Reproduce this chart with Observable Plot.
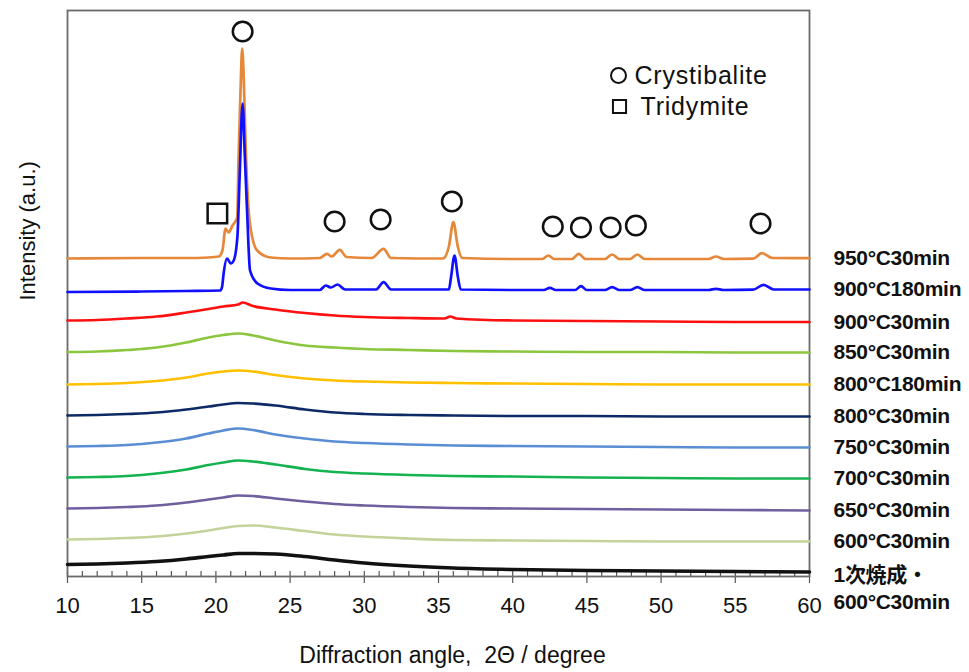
<!DOCTYPE html>
<html><head><meta charset="utf-8">
<script src="https://cdn.jsdelivr.net/npm/d3@7"></script>
<script src="https://cdn.jsdelivr.net/npm/@observablehq/plot@0.6"></script>
<style>
html,body{margin:0;padding:0;background:#fff;}
#chart{width:969px;height:672px;}
g[aria-description="series labels"] text{letter-spacing:-0.3px;}
g[aria-description="legend labels"] text{letter-spacing:0.8px;}
</style></head>
<body><div id="chart"></div>
<script>
// ---- Data (2θ in degrees, intensity in arbitrary stacked units) ----
const seriesNames = ["950°C30min","900°C180min","900°C30min","850°C30min","800°C180min","800°C30min","750°C30min","700°C30min","650°C30min","600°C30min","1次焼成・\n600°C30min"];
const seriesColors = ["#e6883a","#1010ff","#ff1010","#8cc63f","#ffc000","#0d2a66","#5a8ed4","#14b350","#6f5f9f","#c3d39a","#111111"];

const angles950 = [10,15,18,19.5,20.2,20.44,20.65,20.85,21.12,21.44,21.52,21.66,21.77,21.86,22.0,22.16,22.33,22.78,23.68,25,27,27.5,27.8,28.35,28.8,30.5,31.3,31.8,35.3,35.7,36.0,36.3,36.6,40,42.0,42.4,42.8,44.0,44.45,44.9,46.2,46.7,47.2,47.9,48.4,48.9,53.2,53.7,54.2,56.2,56.8,57.5,60];
const int950 = [318,318.5,318.5,319,320,326,348,344,351,359,416,486,528,506,433,376,349,326,319,318,318.5,322.7,320,326.7,319.5,318.5,327.7,318.5,318,330,354.3,330,318.5,317.5,317.5,321,317.5,317.5,322.7,317.5,317.5,322,317.5,317.5,322,317.5,317.5,320,317.5,317.8,323.3,318.5,318.3];

const angles900_180 = [10,15,18,20.3,20.42,20.52,20.75,21.0,21.2,21.45,21.6,21.8,21.95,22.1,22.3,22.8,23.7,25,27,27.4,27.75,28.2,28.7,30.8,31.3,31.8,35.7,35.85,36.08,36.3,36.5,40,42.1,42.5,42.9,44.2,44.6,45.0,46.2,46.7,47.2,47.9,48.4,48.9,53.2,53.7,54.2,56.2,56.9,57.6,60];
const int900_180 = [284.5,285,285.5,286,290,303,318,313,316,340,400,473,420,366,306,293,288,286.5,286.5,291,289,292,287,287,294.3,287,287,300,321,300,287,286.5,286.5,288.7,286.5,286.5,290.3,286.5,286.5,289.3,286.5,286.5,289.3,286.5,286.5,287.7,286.5,286.8,291.7,287,287];

const angles900_30 = [10,12,14,16,18,19.5,20.5,21.5,21.8,22.5,24,26,28,30,33,35.4,35.8,36.2,40,45,50,55,60];
const int900_30 = [256,256.5,258,260,264,267.5,270,272,274,270.5,267,263.5,261,259.5,258.5,258,260,258,256,255.5,255,254.5,254.5];

const amorphAngles = [10,12,14,16,18,19.5,20.5,21.5,22.5,24,26,28,30,33,36,40,45,50,55,60];
const int850_30 = [224.5,225,226.5,229,234,239,241.5,243,241,236,231,229,227.5,226.5,225.5,225,224.5,224.5,224,224];
const int800_180 = [192,192.5,193.5,195.5,199,203,205,206,205,201.5,198,196,195,194,193.5,193,192.5,192,192,192];
const int800_30 = [161,161.5,162.5,164,167,170,172,173.5,173,171,167,164,162.5,161.5,161,160.5,160.5,160,160,160];
const int750_30 = [130,130.5,131.5,134,138,143,146,148,146.5,142,138,135,133.5,132,131,130.5,130,129.5,129,129];
const int700_30 = [99,99.5,100.5,103,107,111.5,114,116,115,112,107.5,104.5,103,101.5,100.5,100,99,98.5,98,98];
const int650_30 = [68,68.5,69.5,71,74,77,79,81,80.5,78,75,72.5,71,69.5,68.5,68,67.5,67,66.5,66];
const int600_30 = [37,37.5,38.5,40,43,46,48.5,50.5,51,49,45.5,42,40,38,36.5,36,35.5,35,35,35];
const intPrimary600 = [12,12.5,13.5,15,17.5,20,21.5,23,23,22.5,20,16.5,13.5,10.5,8.5,7,6,5.5,5,4.5];

// Peak annotation markers
const crystAngles = [21.8,28.0,31.1,35.9,42.7,44.6,46.6,48.3,56.7];
const crystMarkY = [545,355,357,375,350,349,349,351,353];
const tridAngles = [20.1];
const tridMarkY = [363];

const majorTicks = [10,15,20,25,30,35,40,45,50,55,60];
const minorTicks = d3.range(10, 61, 1);

// ---- Build tables ----
const seriesAngles = [angles950, angles900_180, angles900_30, amorphAngles, amorphAngles, amorphAngles, amorphAngles, amorphAngles, amorphAngles, amorphAngles, amorphAngles];
const seriesInt = [int950, int900_180, int900_30, int850_30, int800_180, int800_30, int750_30, int700_30, int650_30, int600_30, intPrimary600];
const rows = seriesNames.flatMap((name, i) => seriesAngles[i].map((a, j) => ({series: name, angle: a, intensity: seriesInt[i][j]})));
const ends = seriesNames.map((name, i) => ({series: name, angle: seriesAngles[i][seriesAngles[i].length - 1], intensity: seriesInt[i][seriesInt[i].length - 1]}));
const lastName = seriesNames[seriesNames.length - 1];
const crystPeaks = crystAngles.map((a, i) => ({angle: a, y: crystMarkY[i]}));
const tridPeaks = tridAngles.map((a, i) => ({angle: a, y: tridMarkY[i]}));

const font = "'Liberation Sans', Arial, 'Noto Sans CJK JP', sans-serif";

const chart = Plot.plot({
  width: 969, height: 672,
  marginLeft: 67, marginRight: 160, marginTop: 10, marginBottom: 96,
  style: {fontFamily: font, background: "#fff", color: "#111"},
  x: {domain: [10, 60]},
  y: {domain: [0, 566], axis: null},
  color: {domain: seriesNames, range: seriesColors},
  marks: [
    Plot.ruleX(minorTicks, {x: d => d, y1: 0, y2: 5, stroke: "#555", strokeWidth: 1.2}),
    Plot.axisX(majorTicks, {tickSize: 7, tickPadding: 14, fontSize: 22, label: null, stroke: "#555", strokeWidth: 1.2, fill: "#111"}),
    Plot.frame({stroke: "#6a6a6a", strokeWidth: 1.8}),
    Plot.line(rows, {x: "angle", y: "intensity", z: "series", stroke: "series",
      strokeWidth: d => d.series === lastName ? 3.6 : 2.7, curve: "monotone-x"}),
    Plot.dot(crystPeaks, {x: "angle", y: "y", r: 9.8, stroke: "#111", strokeWidth: 2.5, fill: "none"}),
    Plot.dot(tridPeaks, {x: "angle", y: "y", symbol: "square", r: 11, stroke: "#111", strokeWidth: 2.5, fill: "none"}),
    // legend
    Plot.dot([0], {x: null, y: null, frameAnchor: "top-left", dx: 551, dy: 65, r: 7.5, stroke: "#111", strokeWidth: 2, fill: "none"}),
    Plot.dot([0], {x: null, y: null, frameAnchor: "top-left", dx: 552, dy: 96, symbol: "square", r: 7.4, stroke: "#111", strokeWidth: 2, fill: "none"}),
    Plot.text(["Crystibalite"], {text: d => d, frameAnchor: "top-left", lineAnchor: "middle", dx: 567, dy: 65, textAnchor: "start", fontSize: 25, fill: "#111", ariaDescription: "legend labels"}),
    Plot.text(["Tridymite"], {text: d => d, frameAnchor: "top-left", lineAnchor: "middle", dx: 573, dy: 96, textAnchor: "start", fontSize: 25, fill: "#111", ariaDescription: "legend labels"}),
    // series labels
    Plot.text(ends.filter(d => d.series !== lastName), {x: "angle", y: "intensity", text: "series", dx: 24, dy: 0, textAnchor: "start",
      fontSize: 21, fontWeight: "bold", fill: "#111", ariaDescription: "series labels"}),
    Plot.text(ends.filter(d => d.series === lastName), {x: "angle", y: "intensity", text: "series", dx: 24, dy: 15, textAnchor: "start",
      fontSize: 21, fontWeight: "bold", lineHeight: 1.25, fill: "#111", ariaDescription: "series labels"}),
    // axis titles
    Plot.text(["Diffraction angle,\u00a0 2Θ / degree"], {text: d => d, frameAnchor: "bottom", lineAnchor: "middle", dx: 14, dy: 79, fontSize: 23, fill: "#111"}),
    Plot.text(["Intensity (a.u.)"], {text: d => d, frameAnchor: "left", dx: -40, dy: 7, rotate: -90, fontSize: 22, fill: "#111"})
  ]
});
document.getElementById("chart").appendChild(chart);
</script></body></html>
